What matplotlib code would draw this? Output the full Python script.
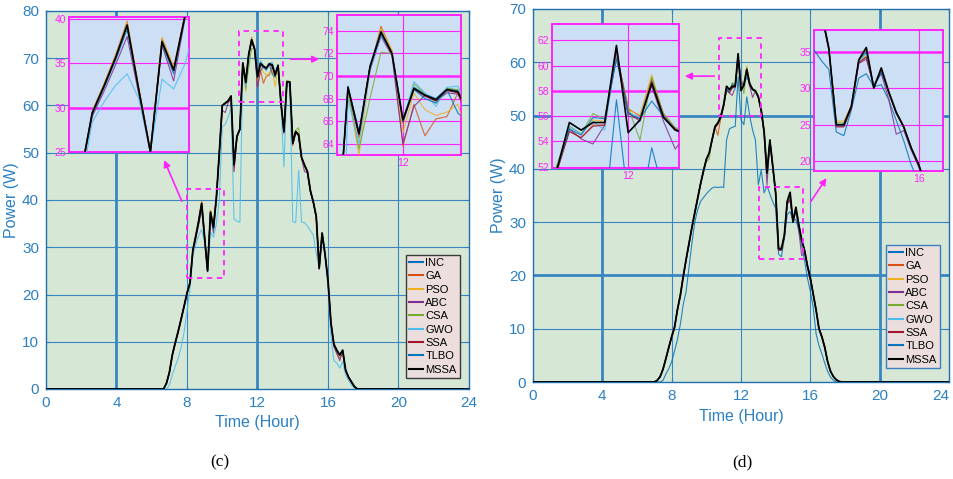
import numpy as np
import matplotlib
matplotlib.use('Agg')
import matplotlib.pyplot as plt
from matplotlib.patches import Rectangle

plt.rcParams['font.family'] = ['Liberation Sans', 'DejaVu Sans']

# ---------------- data ----------------
series_names = ['INC', 'GA', 'PSO', 'ABC', 'CSA', 'GWO', 'SSA', 'TLBO', 'MSSA']
series_colors = ['#0072BD', '#D95319', '#EDB120', '#7E2F8E', '#77AC30',
                 '#4DBEEE', '#A2142F', '#0072BD', '#000000']

# sampling grids: minutes after midnight, one sample every 10 minutes
grid_c_minutes = (390, 1060, 10)
grid_d_minutes = (410, 1070, 10)

# panel (c)
c_INC = [0, 0, 1.2, 3.5, 7.2, 9.8, 12.2, 14.8, 17.5, 20.3,
         22.4, 29.4, 32.5, 35.7, 39.4, 32.1, 25.1, 37.5, 34.3, 40.5,
         50.0, 60.0, 60.5, 61.0, 62.0, 47.5, 53.5, 55.0, 69.1, 65.0,
         70.9, 74.0, 72.1, 66.2, 69.0, 68.4, 68.0, 68.9, 68.7, 66.6,
         68.5, 60.5, 54.5, 65.0, 65.0, 52.0, 54.5, 53.8, 49.0, 47.4,
         46.0, 42.0, 39.6, 36.5, 25.6, 33.0, 28.5, 23.0, 14.0, 9.5,
         8.2, 7.2, 8.2, 4.0, 2.5, 1.5, 0.5, 0]
c_GA = [0, 0, 1.3, 3.6, 7.3, 9.9, 12.3, 14.9, 17.6, 20.4,
        22.5, 29.6, 32.6, 35.9, 39.7, 32.2, 25.2, 37.8, 34.5, 40.6,
        50.0, 60.0, 60.3, 60.8, 61.8, 47.0, 53.3, 55.0, 68.8, 64.5,
        70.6, 74.4, 72.2, 63.8, 67.5, 64.7, 66.2, 66.4, 68.5, 66.0,
        68.3, 60.0, 54.0, 65.2, 64.8, 51.5, 54.3, 53.5, 48.8, 47.2,
        46.0, 41.8, 39.4, 36.3, 25.3, 32.6, 28.3, 22.8, 13.5, 9.0,
        7.5, 6.5, 7.8, 3.8, 2.4, 1.4, 0.5, 0]
c_PSO = [0, 0, 1.2, 3.5, 7.1, 9.7, 12.1, 14.7, 17.4, 20.2,
         22.3, 29.5, 32.6, 35.8, 39.6, 32.2, 25.3, 37.9, 34.6, 40.4,
         50.0, 59.8, 60.4, 60.8, 61.8, 47.3, 53.4, 55.0, 68.6, 63.0,
         70.5, 74.2, 72.3, 65.0, 68.5, 67.0, 66.5, 66.8, 67.5, 64.0,
         68.0, 60.2, 54.3, 65.3, 65.0, 51.8, 54.6, 54.0, 49.0, 47.5,
         46.2, 42.0, 39.6, 36.6, 25.8, 33.2, 28.6, 23.0, 13.8, 9.3,
         8.0, 7.0, 8.0, 4.0, 2.5, 1.5, 0.5, 0]
c_ABC = [0, 0, 1.1, 3.4, 7.0, 9.6, 12.0, 14.6, 17.3, 20.0,
         22.2, 29.0, 31.8, 34.8, 38.0, 31.5, 24.8, 37.0, 33.0, 40.2,
         49.8, 59.0, 58.5, 60.5, 61.5, 47.2, 53.2, 54.8, 68.8, 64.8,
         70.5, 73.5, 71.8, 64.0, 67.3, 68.3, 67.8, 68.5, 68.4, 66.3,
         68.4, 60.8, 54.2, 64.8, 64.8, 51.8, 54.2, 53.6, 48.8, 46.0,
         45.8, 41.8, 39.4, 36.3, 25.4, 32.8, 28.3, 22.8, 13.6, 9.0,
         7.5, 6.0, 7.8, 3.8, 2.4, 1.4, 0.5, 0]
c_CSA = [0, 0, 1.2, 3.5, 7.2, 9.8, 12.2, 14.8, 17.5, 20.3,
         22.4, 29.3, 32.3, 35.5, 39.2, 32.0, 25.1, 37.6, 34.3, 40.4,
         50.0, 60.0, 60.5, 61.0, 62.0, 47.6, 53.5, 55.0, 68.7, 63.5,
         68.0, 72.1, 72.0, 65.8, 69.3, 68.4, 67.6, 68.9, 68.8, 66.6,
         68.6, 60.5, 54.5, 65.3, 65.0, 52.2, 54.8, 55.3, 49.2, 47.5,
         46.0, 42.0, 39.6, 36.5, 25.6, 33.0, 28.5, 23.0, 14.0, 9.5,
         8.2, 7.2, 8.2, 4.0, 2.5, 1.5, 0.5, 0]
c_GWO = [0, 0, 0, 0.8, 3.0, 4.8, 6.5, 8.8, 12.0, 16.5,
         21.0, 28.4, 30.6, 32.5, 33.8, 31.0, 25.0, 33.2, 32.1, 35.0,
         40.0, 55.5, 56.0, 57.5, 59.5, 36.0, 35.5, 35.3, 68.0, 64.0,
         70.5, 73.6, 72.0, 66.0, 69.5, 68.5, 67.3, 69.0, 69.1, 67.0,
         68.5, 60.0, 47.0, 64.0, 64.5, 35.4, 35.2, 46.3, 35.3, 35.2,
         34.5, 33.5, 32.6, 28.7, 25.5, 32.0, 28.0, 21.5, 11.0, 6.0,
         5.5, 4.4, 5.8, 3.0, 1.8, 0.8, 0.2, 0]
c_SSA = [0, 0, 1.2, 3.5, 7.2, 9.8, 12.2, 14.8, 17.5, 20.3,
         22.4, 29.4, 32.3, 35.5, 39.2, 32.0, 25.0, 37.5, 34.2, 40.5,
         50.0, 60.0, 60.4, 60.9, 61.9, 46.0, 53.3, 55.0, 68.9, 64.8,
         70.8, 73.8, 71.9, 65.9, 68.8, 68.2, 67.8, 68.7, 68.5, 66.4,
         68.4, 60.4, 54.4, 64.9, 64.9, 51.9, 54.4, 53.7, 48.9, 47.3,
         45.9, 41.9, 39.5, 36.4, 25.5, 32.9, 28.4, 22.9, 13.9, 9.4,
         8.1, 7.1, 8.1, 3.9, 2.4, 1.4, 0.5, 0]
c_TLBO = [0, 0, 1.2, 3.5, 7.2, 9.8, 12.2, 14.8, 17.5, 20.3,
          22.4, 29.2, 32.2, 35.3, 38.8, 31.9, 25.0, 37.2, 33.8, 40.4,
          50.0, 60.0, 60.5, 61.0, 62.0, 47.5, 53.5, 55.0, 69.0, 64.9,
          70.8, 73.7, 72.0, 66.0, 68.8, 68.0, 67.6, 68.8, 66.7, 66.0,
          68.5, 60.5, 54.5, 65.0, 65.0, 52.0, 54.5, 53.8, 49.0, 47.4,
          46.0, 42.0, 39.6, 36.5, 25.6, 33.0, 28.5, 23.0, 14.0, 9.5,
          8.2, 7.2, 8.2, 4.0, 2.5, 1.5, 0.5, 0]
c_MSSA = [0, 0, 1.2, 3.5, 7.2, 9.8, 12.2, 14.8, 17.5, 20.3,
          22.4, 29.4, 32.4, 35.6, 39.3, 32.0, 25.0, 37.4, 34.2, 40.5,
          50.0, 60.0, 60.5, 61.0, 62.0, 47.5, 53.5, 55.0, 69.0, 64.9,
          70.8, 73.9, 72.0, 66.1, 68.9, 68.3, 67.9, 68.8, 68.6, 66.5,
          68.5, 60.5, 54.5, 65.0, 65.0, 52.0, 54.5, 53.8, 49.0, 47.4,
          46.0, 42.0, 39.6, 36.5, 25.6, 33.0, 28.5, 23.0, 14.0, 9.5,
          8.2, 7.2, 8.2, 4.0, 2.5, 1.5, 0.5, 0]

# panel (d)
d_INC = [0, 0, 0, 0, 0.3, 1.5, 2.5, 3.8, 5.8, 8.0,
         10.8, 14.5, 17.0, 21.5, 26.0, 30.0, 32.3, 33.9, 34.6, 35.3,
         35.9, 36.4, 36.6, 36.5, 36.6, 36.5, 45.4, 47.5, 47.8, 48.0,
         57.3, 49.2, 48.3, 53.5, 50.0, 47.3, 45.4, 37.0, 39.8, 35.5,
         36.8, 35.3, 33.8, 32.6, 24.0, 23.5, 27.0, 31.4, 32.0, 30.2,
         30.5, 28.4, 25.6, 22.8, 19.5, 17.0, 14.0, 9.0, 6.8, 5.3,
         3.5, 2.0, 0.9, 0.3, 0, 0, 0]
d_GA = [0, 0, 0.3, 1.0, 2.4, 4.4, 6.5, 8.5, 10.3, 13.6,
        16.3, 19.8, 23.0, 26.0, 29.0, 31.8, 34.5, 37.2, 39.6, 41.8,
        43.0, 45.5, 47.9, 46.3, 49.5, 51.8, 54.8, 54.3, 55.3, 55.3,
        61.0, 56.6, 56.0, 59.0, 56.2, 55.0, 54.5, 53.4, 50.8, 46.8,
        38.5, 45.0, 40.3, 35.3, 24.8, 24.8, 27.3, 33.6, 34.3, 30.2,
        32.5, 29.3, 26.5, 24.6, 21.7, 19.4, 16.4, 13.4, 9.9, 8.4,
        6.4, 3.7, 2.0, 1.0, 0.4, 0.1, 0]
d_PSO = [0, 0, 0.3, 1.0, 2.4, 4.4, 6.5, 8.5, 10.3, 13.6,
         16.3, 19.8, 23.0, 26.0, 29.0, 31.8, 34.5, 37.2, 39.6, 41.8,
         43.0, 45.5, 47.8, 48.3, 49.7, 51.9, 55.2, 54.6, 55.7, 55.6,
         60.6, 56.5, 56.1, 59.3, 56.0, 55.0, 54.6, 53.5, 51.0, 47.0,
         39.0, 45.2, 40.4, 35.5, 25.5, 25.5, 27.6, 33.7, 34.5, 30.3,
         32.6, 29.4, 26.6, 24.6, 21.8, 19.5, 16.5, 13.5, 10.0, 8.5,
         6.5, 3.8, 2.0, 1.0, 0.4, 0.1, 0]
d_ABC = [0, 0, 0.3, 1.0, 2.3, 4.2, 6.3, 8.3, 10.1, 13.3,
         16.0, 19.5, 22.7, 25.7, 28.7, 31.5, 34.2, 37.0, 39.4, 41.6,
         42.8, 45.3, 47.7, 48.4, 49.6, 51.8, 55.0, 54.2, 53.8, 55.3,
         60.8, 56.0, 55.8, 58.4, 55.6, 53.4, 54.6, 53.6, 50.8, 46.5,
         37.0, 45.0, 40.2, 35.2, 24.8, 24.8, 27.2, 33.4, 34.0, 30.5,
         32.0, 28.5, 23.7, 24.2, 21.5, 19.2, 16.3, 13.3, 9.8, 8.3,
         6.3, 3.7, 2.0, 1.0, 0.4, 0.1, 0]
d_CSA = [0, 0, 0.3, 1.0, 2.4, 4.4, 6.5, 8.5, 10.3, 13.6,
         16.3, 19.8, 23.0, 26.0, 29.0, 31.3, 34.2, 37.0, 39.4, 41.3,
         41.8, 45.5, 48.2, 48.8, 50.2, 52.3, 55.2, 54.6, 56.2, 55.8,
         60.9, 56.7, 54.1, 59.1, 56.2, 55.1, 54.8, 53.7, 51.2, 47.2,
         39.5, 45.5, 40.6, 35.6, 25.3, 25.2, 27.6, 33.8, 35.2, 30.3,
         32.8, 29.6, 26.8, 24.8, 21.9, 19.6, 16.6, 13.6, 10.1, 8.6,
         6.6, 3.9, 2.1, 1.0, 0.4, 0.1, 0]
d_GWO = [0, 0, 0.3, 1.0, 2.4, 4.4, 6.5, 8.5, 10.3, 13.6,
         16.3, 19.8, 23.0, 26.0, 29.0, 31.8, 34.5, 37.2, 39.6, 41.8,
         43.0, 45.5, 47.9, 48.6, 49.8, 52.0, 55.2, 54.6, 55.6, 54.9,
         61.0, 56.3, 55.9, 58.8, 56.0, 55.0, 54.7, 53.5, 51.0, 47.0,
         39.0, 45.2, 40.4, 35.4, 24.8, 24.9, 27.4, 33.6, 34.8, 30.4,
         32.6, 29.6, 26.6, 24.6, 21.8, 19.5, 16.5, 13.5, 10.0, 8.5,
         6.5, 3.8, 2.0, 1.0, 0.4, 0.1, 0]
d_SSA = [0, 0, 0.3, 1.0, 2.4, 4.4, 6.5, 8.5, 10.3, 13.6,
         16.3, 19.8, 23.0, 26.0, 29.0, 31.8, 34.5, 37.2, 39.6, 41.8,
         43.0, 45.5, 47.9, 48.5, 49.7, 51.9, 54.8, 54.3, 55.2, 55.3,
         61.2, 56.3, 55.6, 58.8, 56.0, 55.0, 54.6, 53.5, 51.0, 47.0,
         39.2, 45.3, 40.5, 35.4, 24.7, 24.7, 27.3, 33.5, 34.3, 30.2,
         32.3, 29.4, 26.6, 24.7, 21.8, 19.5, 16.5, 13.5, 10.0, 8.5,
         6.5, 3.8, 2.0, 1.0, 0.4, 0.1, 0]
d_TLBO = [0, 0, 0.3, 1.0, 2.4, 4.4, 6.5, 8.5, 10.3, 13.6,
          16.3, 19.8, 23.0, 26.0, 29.0, 31.8, 34.5, 37.2, 39.6, 41.8,
          43.0, 45.5, 47.9, 48.6, 49.8, 52.0, 55.0, 54.5, 55.9, 55.8,
          60.5, 56.2, 55.8, 57.2, 56.0, 54.9, 54.6, 53.5, 51.0, 47.0,
          39.2, 45.4, 40.5, 35.5, 25.0, 25.0, 27.5, 33.9, 35.0, 30.2,
          32.2, 29.5, 26.7, 24.7, 21.8, 19.5, 16.5, 13.5, 10.0, 8.5,
          6.5, 3.8, 2.0, 1.0, 0.4, 0.1, 0]
d_MSSA = [0, 0, 0.3, 1.0, 2.4, 4.4, 6.5, 8.5, 10.3, 13.6,
          16.3, 19.8, 23.0, 26.0, 29.0, 31.8, 34.5, 37.2, 39.6, 41.8,
          43.0, 45.5, 47.9, 48.6, 49.8, 52.0, 55.5, 54.9, 55.5, 55.5,
          61.6, 54.7, 55.7, 58.6, 55.9, 54.9, 54.6, 53.5, 51.0, 47.0,
          39.2, 45.4, 40.5, 35.5, 25.0, 25.0, 27.5, 33.9, 35.6, 30.0,
          32.8, 29.5, 26.7, 24.7, 21.8, 19.5, 16.5, 13.5, 10.0, 8.5,
          6.5, 3.8, 2.0, 1.0, 0.4, 0.1, 0]

panel_c = [c_INC, c_GA, c_PSO, c_ABC, c_CSA, c_GWO, c_SSA, c_TLBO, c_MSSA]
panel_d = [d_INC, d_GA, d_PSO, d_ABC, d_CSA, d_GWO, d_SSA, d_TLBO, d_MSSA]

x_ticks = [0, 4, 8, 12, 16, 20, 24]
y_ticks_c = [0, 10, 20, 30, 40, 50, 60, 70, 80]
y_ticks_d = [0, 10, 20, 30, 40, 50, 60, 70]

# ---------------- style ----------------
W, H = 954, 479
BG = '#d6e8d5'
INSET_BG = '#cddff4'
GRID = '#3a86c2'
TXT = '#2b80c4'
MAG = '#ff22ff'


def fx(px):
    return px / W


def fy(py):
    return 1 - py / H


def full_xy(grid, vals):
    t = np.arange(grid[0], grid[1] + 1, grid[2]) / 60.0
    x = np.concatenate([[0.0], t, [24.0]])
    y = np.concatenate([[0.0], np.asarray(vals, float), [0.0]])
    return x, y


def draw_series(ax, grid, panel, inset=False):
    lines = []
    for name, col, vals in zip(series_names, series_colors, panel):
        x, y = full_xy(grid, vals)
        lw = 1.3 if name == 'MSSA' else 0.8
        if inset:
            lw = 1.2 if name == 'MSSA' else 0.8
        ln, = ax.plot(x, y, color=col, lw=lw, label=name, zorder=3,
                      alpha=1.0 if name == 'MSSA' else 0.85)
        lines.append(ln)
    return lines


def style_main(ax, ylim, yticks, thick_x, thick_y):
    ax.set_facecolor(BG)
    ax.set_xlim(0, 24)
    ax.set_ylim(*ylim)
    ax.set_xticks(x_ticks)
    ax.set_yticks(yticks)
    for v in x_ticks[1:-1]:
        ax.axvline(v, color=GRID, lw=2.0 if v in thick_x else 0.8, zorder=1)
    for v in yticks[1:-1]:
        ax.axhline(v, color=GRID, lw=2.0 if v in thick_y else 0.8, zorder=1)
    ax.tick_params(direction='in', length=3, colors=TXT, labelsize=11,
                   top=True, right=True, pad=5)
    for s in ax.spines.values():
        s.set_color('#1f6fae')
        s.set_linewidth(1.0)
    ax.set_xlabel('Time (Hour)', color=TXT, fontsize=11.5, labelpad=4)
    ax.set_ylabel('Power (W)', color=TXT, fontsize=11.5, labelpad=2)


def make_inset(rect_px, grid, panel, xlim, ylim, yticks, xticks, thick_y):
    x0, y0, x1, y1 = rect_px
    ax = fig.add_axes([fx(x0), fy(y1), fx(x1 - x0), (y1 - y0) / H])
    ax.set_facecolor(INSET_BG)
    draw_series(ax, grid, panel, inset=True)
    ax.set_xlim(*xlim)
    ax.set_ylim(*ylim)
    ax.set_yticks(yticks)
    ax.set_xticks(xticks)
    for v in yticks:
        ax.axhline(v, color=MAG, lw=1.8 if v == thick_y else 0.8, zorder=1)
    for v in xticks:
        ax.axvline(v, color=MAG, lw=0.8, zorder=1)
    ax.tick_params(direction='in', length=2, colors=MAG, labelsize=7.5, pad=2)
    for s in ax.spines.values():
        s.set_color(MAG)
        s.set_linewidth(1.4)
    return ax


def dashed_box(ax, x0, x1, y0, y1):
    ax.add_patch(Rectangle((x0, y0), x1 - x0, y1 - y0, fill=False,
                           ec=MAG, lw=1.3, ls=(0, (3, 2.5)), zorder=5))


def arrow(ax, tail, head):
    ax.annotate('', xy=head, xytext=tail,
                arrowprops=dict(arrowstyle='-|>', color=MAG, lw=1.2,
                                mutation_scale=10), zorder=6)


def add_legend(ax, lines, right_px, bottom_px, width_px, height_px, edge):
    leg = ax.legend(lines, series_names, loc='lower right',
                    bbox_to_anchor=(1 - right_px / width_px, bottom_px / height_px),
                    borderaxespad=0, fontsize=8, handlelength=1.25,
                    handletextpad=0.2, labelspacing=0.3, borderpad=0.3,
                    frameon=True, fancybox=False)
    fr = leg.get_frame()
    fr.set_facecolor('#ecdedd')
    fr.set_edgecolor(edge)
    fr.set_alpha(1)
    fr.set_linewidth(1.0)
    for h in leg.legend_handles:
        h.set_linewidth(1.5)
        h.set_alpha(1)
    leg.set_zorder(10)
    return leg


fig = plt.figure(figsize=(W / 100, H / 100), dpi=100)

# ---------------- panel (c) ----------------
axc = fig.add_axes([fx(46), fy(389), fx(423), 378 / H])
style_main(axc, (0, 80), y_ticks_c, thick_x=[4, 12], thick_y=[])
lines_c = draw_series(axc, grid_c_minutes, panel_c)
dashed_box(axc, 8.0, 10.1, 23.5, 42.3)
dashed_box(axc, 10.95, 13.45, 60.8, 75.8)
arrow(axc, (7.77, 39.2), (6.64, 49.0))
arrow(axc, (13.73, 69.8), (15.66, 69.8))
add_legend(axc, lines_c, 9, 11, 423, 378, '#3a3a3a')

make_inset((69, 17, 189, 152), grid_c_minutes, panel_c, (8.0, 9.72), (25, 40.2),
           [25, 30, 35, 40], [], thick_y=30)
make_inset((337, 15, 461, 155), grid_c_minutes, panel_c, (11.0, 12.88), (63.0, 75.4),
           [64, 66, 68, 70, 72, 74], [12], thick_y=70)

fig.text(fx(220), fy(462), '(c)', ha='center', va='center', fontsize=12.5,
         family=['Liberation Serif', 'DejaVu Serif'])

# ---------------- panel (d) ----------------
axd = fig.add_axes([fx(533), fy(382), fx(416), 373 / H])
style_main(axd, (0, 70), y_ticks_d, thick_x=[4, 20], thick_y=[20, 50])
lines_d = draw_series(axd, grid_d_minutes, panel_d)
dashed_box(axd, 10.73, 13.16, 50.0, 64.6)
dashed_box(axd, 13.04, 15.58, 23.1, 36.6)
arrow(axd, (10.62, 57.4), (8.6, 57.4))
arrow(axd, (15.93, 33.4), (17.02, 38.7))
add_legend(axd, lines_d, 9, 14, 416, 373, '#3a7fc0')
# keep the last x tick label inside the figure
axd.get_xticklabels()[-1].set_horizontalalignment('right')

make_inset((552, 24, 679, 168), grid_d_minutes, panel_d, (10.92, 12.72), (51.9, 63.3),
           [52, 54, 56, 58, 60, 62], [12], thick_y=58)
make_inset((814, 30, 943, 171), grid_d_minutes, panel_d, (13.67, 16.54), (18.65, 38.0),
           [20, 25, 30, 35], [16], thick_y=35)

fig.text(fx(742), fy(462), '(d)', ha='center', va='center', fontsize=12.5,
         family=['Liberation Serif', 'DejaVu Serif'])

fig.savefig('out.png', dpi=100, facecolor='white')
